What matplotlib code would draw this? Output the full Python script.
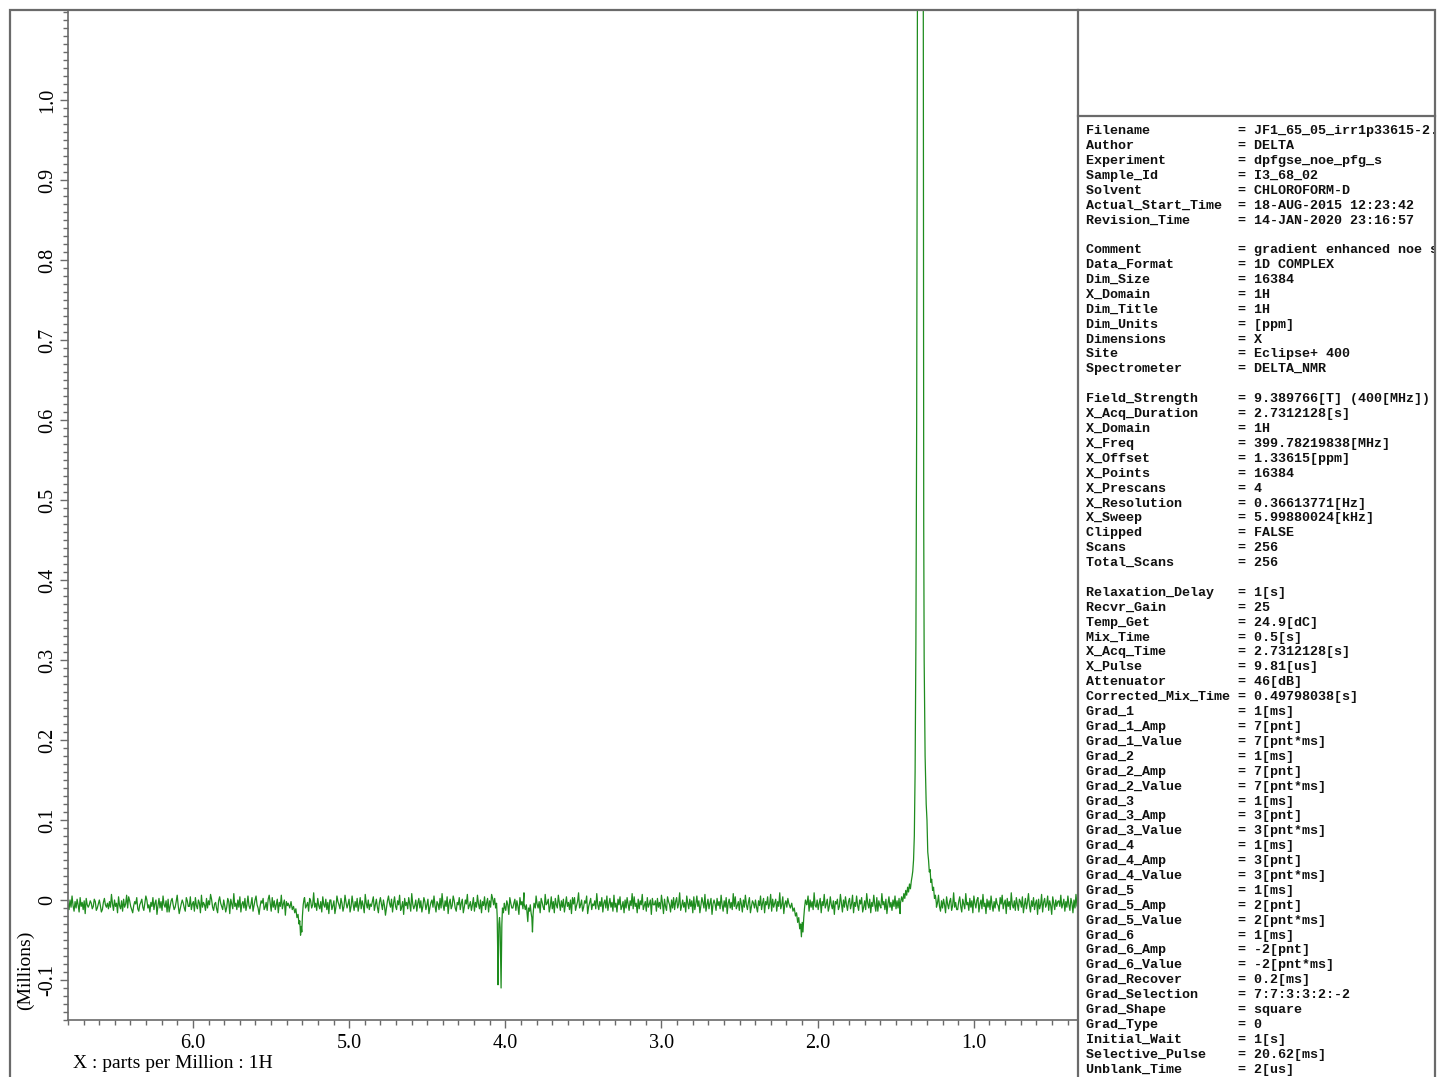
import numpy as np
import matplotlib.pyplot as plt
from matplotlib.patches import Rectangle
from matplotlib.lines import Line2D
from matplotlib.ticker import MultipleLocator, FixedLocator, FuncFormatter

W, H = 1438, 1077

# chemical shift window of the trace (ppm, left to right)
ppm_left, ppm_right = 6.80, 0.333
baseline_level = -0.003

# baseline noise, thousandths of a million counts, left to right
noise = [
    -2, -9, 3, -6, 8, -4, -11, 1, -7, 4, -3, -12, 6, -5, 0, -9, 2, -14, 5, -3,
    -6, -3, 2, -1, -8, -5, 4, 1, -10, -7, -2, 3, -4, -12, -9, 0, 5, -3, -6, -1,
    -8, 1, -6, 10, -2, -10, 3, -5, -1, -13, 7, -4, -8, 2, -11, 4, -6, -2, 9, -7,
    7, 2, -5, -9, -13, -4, 1, -2, 6, -8, -11, -3, 0, 4, -6, -10, -1, 8, 3, -7,
    -3, -12, 0, -5, 6, -9, -1, 3, -15, -4, 5, -7, 1, -10, 8, -3, -6, 2, -12, 4,
    -12, -5, 2, 5, -3, -9, -6, 1, 9, -4, -14, -8, -2, 3, -1, -7, -11, 6, 2, -5,
    -5, 7, -9, -2, 1, -11, 6, -4, -8, 3, -1, -13, 9, -6, 0, -3, -10, 5, -7, 2,
    -3, 10, 4, -6, -10, -2, 0, -8, -13, 2, 7, -1, -5, -9, 3, -4, -12, -6, 5, 1,
    -14, 4, -2, -8, 11, -5, -1, -9, 3, -6, 7, -12, -2, 1, -7, 5, -10, -3, 8, -4,
    -8, -2, 6, -11, -4, 3, 8, -3, -7, -15, -5, 2, -1, 5, -9, -6, 0, -10, 4, 9,
    -1, -11, 6, -6, 2, -9, -3, 4, -13, 0, -5, 9, -8, -2, 3, -16, 1, -4, 6, -9,
    -1, -6, -12, 1, 4, -3, -8, 7, 2, -10, -5, -13, 3, -2, 6, -7, -4, 0, -11, 5,
    2, -7, -3, 12, -6, -1, -10, 5, -4, -8, 1, -12, 7, -3, -6, 4, -9, 0, -14, 3,
    3, -9, -4, 2, -14, -6, 8, 1, -3, -8, 5, -1, -11, -5, 9, 0, -7, -2, 4, -12,
    -5, 8, -2, -10, 1, -6, 5, -11, -3, 6, -8, 2, -4, -13, 10, -1, -7, 3, -9, -2,
    -5, 1, 7, -10, -3, 4, -6, -13, 0, 6, -2, -9, 3, -4, -16, -7, 2, 8, -1, -6,
    4, -12, -1, 7, -5, -9, 2, -3, 9, -10, -6, 1, -15, 5, -4, 0, -8, 6, -2, -11,
    11, -2, -8, -4, 3, -11, -1, 5, -7, 2, -12, -5, 6, 1, -9, -3, 4, -14, -6, 0,
    3, -6, 8, -4, -12, 1, -2, -9, 5, -7, 11, -3, -10, 2, -5, 7, -14, -1, 4, -8,
    -4, 8, 2, -7, -11, 0, -3, 6, -9, -1, 4, -13, -6, 3, -2, 10, -8, -4, 1, -10,
    -3, 6, -11, 0, -6, 9, -2, -8, 3, -13, 1, -4, 7, -9, -1, 5, -12, 2, -6, 10,
    5, -3, -9, 2, 7, -6, -12, -1, 4, -8, 0, 9, -5, -10, 2, -3, -15, 6, -1, -7,
    -7, -1, 4, -10, 2, -5, -15, 6, -3, 1, -8, 12, -6, -2, 3, -11, 0, -4, 8, -9,
    3, -11, -4, 8, -2, -7, 1, -13, 5, 0, -6, -9, 10, -3, -1, 4, -12, -5, 7, -8,
    1, -13, 5, -3, -7, 9, -1, -10, 2, -6, 4, -12, -2, 7, -5, 0, -9, 3, -14, 6,
    -2, 6, -10, -4, 1, 12, -7, -3, 3, -11, -6, 2, -1, 8, -14, -5, 0, 5, -9, -2,
    -4, 2, -8, 11, -3, -9, 1, -5, 6, -12, -1, 3, -7, 8, -10, -2, 5, -6, 0, -11,
    9, -6, -1, -12, 4, -3, 7, -9, -5, 1, -13, 3, -7, 6, -2, -10, 2, -4, 11, -8,
    7, -5, -1, -13, 4, -8, 2, -3, 10, -9, -4, 1, -11, 6, -6, -2, 3, -15, 5, -3,
    -3, 2, -11, 5, -6, 0, -8, 9, -1, -14, 4, -5, -10, 7, 1, -3, -12, 3, -7, 6,
    -9, 1, 6, -7, -2, 12, -10, -4, 3, -6, 0, -12, 8, -1, -8, 4, -5, 2, -13, 7,
    -9, -2, 8, -5, 2, -13, -4, 6, 0, -7, 10, -11, -3, 4, -8, -1, 5, -15, -2, 3,
    -2, -10, 5, -4, 1, -8, 9, -3, -11, 2, -6, 6, -14, -1, 4, -7, 0, -9, 11, -5,
    7, -8, -4, 1, -10, 5, -2, -12, 3, -6, 9, -3, -9, 0, 6, -13, -5, 2, -1, -7,
    3, -6, -12, 2, -4, 8, -9, -1, 5, -13, 1, -3, 7, -8, -2, 10, -11, 4, -6, -1,
    4, -11, 1, -5, 12, -8, -3, 7, -14, -2, 2, -6, 5, -10, -1, 8, -4, -12, 0, 6,
    -7, 9, -3, -10, 0, 5, -8, 2, -15, 6, -4, -1, 8, -11, 3, -6, 1, -9, 12, -4,
    -6, 3, -9, -1, 5, -13, 1, -4, 10, -7, -2, 4, -11, -5, 7, -3, -8, 2, -15, 1,
    -2, 4, -9, -5, 10, -1, -12, 3, -6, 7, -3, -10, 1, 5, -8, -2, 9, -13, 0, -5,
    8, -4, -10, 3, -2, 6, -12, -6, 2, -9, 11, -1, -7, 4, -13, 0, -5, 9, -3, -11,
    6, -11, 2, -4, -7, 11, -3, 1, -9, 4, -14, -2, 7, -6, 0, -10, 3, -5, 8, -8,
    2, -7, 5, -14, -3, 1, -9, 8, -5, -1, 3, -12, 6, -8, -2, 10, -6, -4, 4, -10,
    -1, 5, -13, 0, -6, 3, -9, 9, -4, -2, 6, -11, 1, -7, 4, -15, 2, -3, 10, -6,
    -1, 9, -5, -11, 2, -7, 4, -3, -13, 7, -2, -8, 1, 5, -10, -4, 12, -6, 0, -9,
    -9, 1, 7, -5, -12, 4, -2, -8, 11, -3, 0, -10, 5, -6, 2, -13, 8, -1, -7, 3,
    6, -12, -2, 3, -8, 10, -5, -1, -14, 4, -6, 2, -9, 8, -3, -11, 1, -7, 5, -2,
    -4, -11, 6, -2, 9, -8, -1, 3, -14, 5, -5, 1, -9, 12, -3, -7, 2, -10, 6, -2,
    -10, 4, 1, -6, 7, -13, -3, 5, -8, 0, 11, -4, -12, 2, -5, 6, -9, -1, 3, -15,
    4, -8, -3, 10, -12, 0, 5, -6, -2, 8, -10, 2, -4, -15, 7, -1, -9, 3, -5, 1,
    2, -5, 9, -7, -2, 4, -11, 1, -6, 8, -3, -10, 5, -1, -13, 3, -7, 10, -4, -8,
]

# NOE dips and the irradiated 1.34 ppm line (ppm, Millions)
dip_531_ppm = [5.390, 5.380, 5.372, 5.364, 5.356, 5.348, 5.341, 5.334, 5.327,
               5.321, 5.316, 5.311, 5.307, 5.303, 5.299, 5.294, 5.288]
dip_531_val = [-0.004, -0.010, -0.002, -0.012, -0.008, -0.016, -0.011, -0.022, -0.018,
               -0.030, -0.026, -0.044, -0.033, -0.040, -0.020, -0.006, 0.002]

dip_404_ppm = [4.075, 4.068, 4.062, 4.056, 4.052, 4.049, 4.0465, 4.044, 4.041,
               4.037, 4.033, 4.030, 4.027, 4.025, 4.022, 4.018, 4.012, 4.006]
dip_404_val = [-0.006, 0.002, -0.010, -0.004, -0.020, -0.060, -0.106, -0.070, -0.030,
               -0.022, -0.035, -0.075, -0.110, -0.080, -0.030, -0.010, -0.016, -0.004]

dip_384_ppm = [3.880, 3.872, 3.865, 3.860, 3.856, 3.851, 3.845, 3.840, 3.835,
               3.830, 3.826, 3.822, 3.816, 3.808]
dip_384_val = [-0.004, -0.012, -0.006, -0.018, -0.027, -0.010, -0.014, -0.006, -0.016,
               -0.022, -0.040, -0.018, -0.004, -0.010]

dip_210_ppm = [2.185, 2.175, 2.166, 2.158, 2.150, 2.142, 2.135, 2.128, 2.121,
               2.115, 2.109, 2.104, 2.099, 2.094, 2.089, 2.084, 2.078, 2.070]
dip_210_val = [-0.004, -0.010, -0.004, -0.014, -0.010, -0.020, -0.016, -0.028, -0.022,
               -0.036, -0.030, -0.046, -0.028, -0.040, -0.022, -0.010, 0.000, -0.006]

peak_134_ppm = [1.470, 1.462, 1.455, 1.448, 1.442, 1.436, 1.430, 1.424, 1.418,
                1.412, 1.406, 1.400, 1.395, 1.391, 1.386, 1.381, 1.376, 1.371,
                1.366, 1.362, 1.358, 1.350, 1.340, 1.332, 1.326, 1.3225, 1.3212,
                1.3208, 1.3204, 1.318, 1.312, 1.305, 1.300, 1.295, 1.290, 1.285,
                1.280, 1.275, 1.270, 1.264, 1.258, 1.252, 1.246, 1.240]
peak_134_val = [-0.004, 0.004, -0.002, 0.008, 0.002, 0.012, 0.006, 0.016, 0.010,
                0.020, 0.014, 0.024, 0.030, 0.036, 0.050, 0.080, 0.16, 0.32,
                0.60, 1.00, 1.60, 2.40, 2.80, 2.40, 1.60, 0.90, 0.475,
                0.470, 0.450, 0.30, 0.18, 0.12, 0.10, 0.060, 0.050, 0.035,
                0.038, 0.022, 0.026, 0.012, 0.016, 0.002, 0.006, -0.004]

features = [(dip_531_ppm, dip_531_val), (dip_404_ppm, dip_404_val),
            (dip_384_ppm, dip_384_val), (dip_210_ppm, dip_210_val),
            (peak_134_ppm, peak_134_val)]

y_major = [-0.1, 0.0, 0.1, 0.2, 0.3, 0.4, 0.5, 0.6, 0.7, 0.8, 0.9, 1.0]

# stitch the trace: noisy baseline outside the features, feature points inside
grid = np.linspace(ppm_left, ppm_right, len(noise))
base = baseline_level + np.array(noise) / 1000.0
keep = np.ones(len(grid), dtype=bool)
for p, v in features:
    keep &= ~((grid <= max(p)) & (grid >= min(p)))
xs = np.concatenate([grid[keep]] + [np.array(p) for p, v in features])
ys = np.concatenate([base[keep]] + [np.array(v) for p, v in features])
order = np.argsort(-xs)
xs, ys = xs[order], ys[order]

frame_col = '#6a6a6a'
serif = 'Liberation Serif'

fig = plt.figure(figsize=(W / 100, H / 100), dpi=100)
ax = fig.add_axes([68 / W, 1 - 1020 / H, (1078 - 68) / W, (1020 - 10) / H])
ax.plot(xs, ys, color='#1e8c1e', lw=0.9)
ax.set_xlim(ppm_left, ppm_right)
ax.set_ylim(-0.15, 1.1125)

ax.xaxis.set_major_locator(MultipleLocator(1.0))
ax.xaxis.set_minor_locator(MultipleLocator(0.1))
ax.yaxis.set_major_locator(FixedLocator(y_major))
ax.yaxis.set_minor_locator(MultipleLocator(0.01))
ax.xaxis.set_major_formatter(FuncFormatter(lambda v, _: '%.1f' % v))
ax.yaxis.set_major_formatter(FuncFormatter(lambda v, _: '0' if abs(v) < 1e-9 else '%.1f' % v))
ax.tick_params(which='major', direction='out', length=5.5, width=1, color=frame_col,
               labelsize=14.5)
ax.tick_params(which='minor', direction='out', length=3.5, width=1, color=frame_col)
ax.tick_params(axis='x', which='major', pad=4.5)
ax.tick_params(axis='y', which='major', pad=2.5)
for lab in ax.get_xticklabels() + ax.get_yticklabels():
    lab.set_fontfamily(serif)
for lab in ax.get_yticklabels():
    lab.set_rotation(90)
    lab.set_va('center')
for s in ax.spines.values():
    s.set_color(frame_col)
    s.set_linewidth(1.2)
ax.spines['top'].set_visible(False)

fig.text(25 / W, 1 - 970 / H, '(Millions)', rotation=90, ha='center', va='center',
         fontsize=14, family=serif)
fig.text(73 / W, 1 - 1063 / H, 'X : parts per Million : 1H', ha='left', va='center',
         fontsize=14, family=serif)

# outer frame and divider of the parameter panel
fig.add_artist(Rectangle((10 / W, -0.01), (1435 - 10) / W, 1.01 - 10 / H, fill=False,
                         edgecolor=frame_col, lw=1.6, transform=fig.transFigure))
fig.add_artist(Line2D([1078 / W, 1078 / W], [0, 1 - 10 / H], color=frame_col, lw=1.6,
                      transform=fig.transFigure))
fig.add_artist(Line2D([1078 / W, 1435 / W], [1 - 116 / H, 1 - 116 / H], color=frame_col,
                      lw=1.6, transform=fig.transFigure))

# acquisition parameters
param_keys = [
    'Filename', 'Author', 'Experiment', 'Sample_Id', 'Solvent', 'Actual_Start_Time',
    'Revision_Time', None,
    'Comment', 'Data_Format', 'Dim_Size', 'X_Domain', 'Dim_Title', 'Dim_Units',
    'Dimensions', 'Site', 'Spectrometer', None,
    'Field_Strength', 'X_Acq_Duration', 'X_Domain', 'X_Freq', 'X_Offset', 'X_Points',
    'X_Prescans', 'X_Resolution', 'X_Sweep', 'Clipped', 'Scans', 'Total_Scans', None,
    'Relaxation_Delay', 'Recvr_Gain', 'Temp_Get', 'Mix_Time', 'X_Acq_Time', 'X_Pulse',
    'Attenuator', 'Corrected_Mix_Time', 'Grad_1', 'Grad_1_Amp', 'Grad_1_Value',
    'Grad_2', 'Grad_2_Amp', 'Grad_2_Value', 'Grad_3', 'Grad_3_Amp', 'Grad_3_Value',
    'Grad_4', 'Grad_4_Amp', 'Grad_4_Value', 'Grad_5', 'Grad_5_Amp', 'Grad_5_Value',
    'Grad_6', 'Grad_6_Amp', 'Grad_6_Value', 'Grad_Recover', 'Grad_Selection',
    'Grad_Shape', 'Grad_Type', 'Initial_Wait', 'Selective_Pulse', 'Unblank_Time',
]
param_vals = [
    'JF1_65_05_irr1p33615-2.', 'DELTA', 'dpfgse_noe_pfg_s', 'I3_68_02',
    'CHLOROFORM-D', '18-AUG-2015 12:23:42', '14-JAN-2020 23:16:57', None,
    'gradient enhanced noe s', '1D COMPLEX', '16384', '1H', '1H', '[ppm]',
    'X', 'Eclipse+ 400', 'DELTA_NMR', None,
    '9.389766[T] (400[MHz])', '2.7312128[s]', '1H', '399.78219838[MHz]',
    '1.33615[ppm]', '16384', '4', '0.36613771[Hz]', '5.99880024[kHz]', 'FALSE',
    '256', '256', None,
    '1[s]', '25', '24.9[dC]', '0.5[s]', '2.7312128[s]', '9.81[us]', '46[dB]',
    '0.49798038[s]', '1[ms]', '7[pnt]', '7[pnt*ms]', '1[ms]', '7[pnt]', '7[pnt*ms]',
    '1[ms]', '3[pnt]', '3[pnt*ms]', '1[ms]', '3[pnt]', '3[pnt*ms]', '1[ms]',
    '2[pnt]', '2[pnt*ms]', '1[ms]', '-2[pnt]', '-2[pnt*ms]', '0.2[ms]',
    '7:7:3:3:2:-2', 'square', '0', '1[s]', '20.62[ms]', '2[us]',
]

ax_info = fig.add_axes([1078 / W, 0, (1435 - 1078) / W, 1 - 10 / H])
ax_info.set_xlim(1078, 1435)
ax_info.set_ylim(1077, 10)
ax_info.axis('off')
for i, (k, v) in enumerate(zip(param_keys, param_vals)):
    if k is None:
        continue
    ax_info.text(1086, 131 + i * 14.9, f'{k:<19}= {v}', family='Liberation Mono',
                 weight='bold', fontsize=9.6, ha='left', va='center', color='#111111',
                 clip_on=True, clip_box=ax_info.bbox)

fig.savefig('out.png', dpi=100)
